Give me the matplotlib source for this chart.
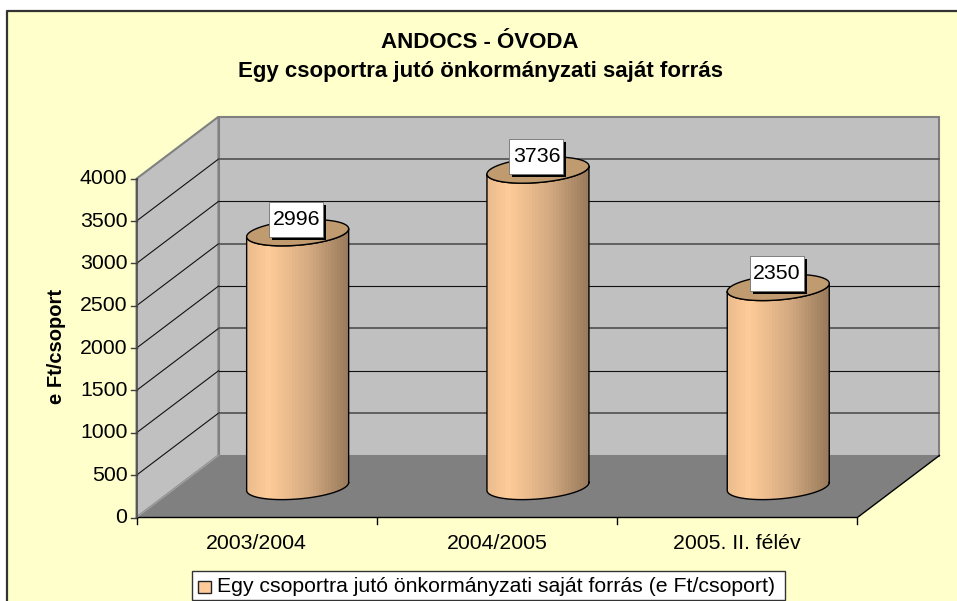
import numpy as np
import matplotlib
matplotlib.use('Agg')
import matplotlib.pyplot as plt
from matplotlib.colors import LinearSegmentedColormap
from matplotlib.patches import Polygon, Rectangle
from matplotlib.path import Path

# Data
categories = ['2003/2004', '2004/2005', '2005. II. félév']
values = [2996, 3736, 2350]
y_ticks = [0, 500, 1000, 1500, 2000, 2500, 3000, 3500, 4000]

title_lines = ['ANDOCS - ÓVODA', 'Egy csoportra jutó önkormányzati saját forrás']
y_label = 'e Ft/csoport'
legend_label = 'Egy csoportra jutó önkormányzati saját forrás (e Ft/csoport)'

plt.rcParams['font.family'] = ['Liberation Sans', 'DejaVu Sans']

# Oblique projection of the 3D box onto the picture, in pixels
X0, Y0 = 136.5, 517.5
CAT_W = 240.3
PX_PER_VALUE = 0.0847
DEPTH_X, DEPTH_Y = 82, 62
FONT = 15.3


def project(cat, value, depth=0.0):
    return (X0 + cat * CAT_W + depth * DEPTH_X,
            Y0 - value * PX_PER_VALUE - depth * DEPTH_Y)


fig = plt.figure(figsize=(9.57, 6.01), dpi=100)
ax = fig.add_axes([0, 0, 1, 1])
ax.axis('off')

# Chart background with its border on the left and top
ax.add_patch(Rectangle((7, 10.5), 960, 600, fc='#FFFFCC', ec='none', zorder=0))
ax.plot([7, 7, 957], [601, 10.5, 10.5], color='#333333', lw=1.6, zorder=1)

n_cat = len(categories)
y_max = y_ticks[-1]
edge = '#808080'

# Walls and floor
side_wall = [project(0, 0), project(0, y_max), project(0, y_max, 1), project(0, 0, 1)]
back_wall = [project(0, 0, 1), project(0, y_max, 1), project(n_cat, y_max, 1), project(n_cat, 0, 1)]
floor = [project(0, 0), project(0, 0, 1), project(n_cat, 0, 1), project(n_cat, 0)]
ax.add_patch(Polygon(side_wall, fc='#C0C0C0', ec=edge, lw=1.5, zorder=2))
ax.add_patch(Polygon(back_wall, fc='#C0C0C0', ec=edge, lw=1.5, zorder=2))

# Gridlines, the alternating weights come from the resampled original
for i, v in enumerate(y_ticks[1:-1], start=1):
    a, b, c = project(0, v), project(0, v, 1), project(n_cat, v, 1)
    ax.plot([a[0], b[0]], [a[1], b[1]], color='#111111', lw=0.8, zorder=3)
    col, lw = ('#111111', 0.8) if i % 2 == 0 else ('#505050', 1.2)
    ax.plot([b[0], c[0]], [b[1], c[1]], color=col, lw=lw, zorder=3)

ax.add_patch(Polygon(floor, fc='#808080', ec='none', zorder=4))
ax.plot(*zip(project(0, 0), project(n_cat, 0), project(n_cat, 0, 1)), color='black', lw=1.0, zorder=5)
ax.plot(*zip(project(0, 0), project(0, 0, 1)), color='#A0A0A0', lw=1.0, zorder=5)

# Axis lines, ticks and labels
ax.plot(*zip(project(0, 0), project(0, y_max)), color='#505050', lw=1.2, zorder=5)
for v in y_ticks:
    px, py = project(0, v)
    ax.plot([px - 6, px], [py, py], color='#404040', lw=1.0, zorder=5)
    ax.text(px - 9, py, str(v), ha='right', va='center', fontsize=FONT, color='black')
for i in range(n_cat + 1):
    px, py = project(i, 0)
    ax.plot([px, px], [py, py + 6], color='black', lw=1.0, zorder=5)
for i, cat in enumerate(categories):
    px, py = project(i + 0.5, 0)
    ax.text(px, py + 26, cat, ha='center', va='center', fontsize=FONT, color='black')

# Cylinders
cyl_cmap = LinearSegmentedColormap.from_list(
    'cyl', [(0, '#EBBC8D'), (0.2, '#FFCC99'), (0.6, '#D6AC82'), (1, '#9A7B5C')])
gradient = np.linspace(0, 1, 34).reshape(1, -1)
HALF_W, HALF_H, TILT = 51, 12.5, 4
t = np.linspace(0, 2 * np.pi, 121)

for i, val in enumerate(values):
    cx, y_bot = project(i + 0.5, 0, 0.5)
    _, y_top = project(i + 0.5, val, 0.5)

    # lower half of an ellipse, running from the right side to the left side
    lower = t[t <= np.pi]
    ex = HALF_W * np.cos(lower)
    ey = HALF_H * np.sin(lower) - TILT * np.cos(lower)
    body = np.vstack([
        np.column_stack([cx + ex, y_bot + ey]),
        np.column_stack([cx + ex[::-1], y_top + ey[::-1]]),
        [[cx + ex[0], y_bot + ey[0]]],
    ])
    im = ax.imshow(gradient, cmap=cyl_cmap, aspect='auto', interpolation='nearest',
                   extent=[cx - HALF_W, cx + HALF_W, y_bot + 20, y_top - 20], zorder=6)
    im.set_clip_path(Path(body), ax.transData)
    ax.plot(body[:, 0], body[:, 1], color='black', lw=1.0, zorder=7)

    top_x = cx + HALF_W * np.cos(t)
    top_y = y_top + HALF_H * np.sin(t) - TILT * np.cos(t)
    ax.fill(top_x, top_y, fc='#C19B70', ec='black', lw=1.0, zorder=8)

    # Value label with its hard shadow
    lx, ly = cx - 1.5, y_top - 13.5
    ax.add_patch(Rectangle((lx - 27 + 3, ly - 17.5 + 3), 54, 35, fc='black', ec='none', zorder=9))
    ax.add_patch(Rectangle((lx - 27, ly - 17.5), 54, 35, fc='white', ec='#707070', lw=0.6, zorder=10))
    ax.text(lx, ly, str(val), ha='center', va='center', fontsize=FONT, color='black', zorder=11)

# Titles
ax.text(480, 42, title_lines[0], ha='center', va='center', fontsize=16, fontweight='bold')
ax.text(480, 71, title_lines[1], ha='center', va='center', fontsize=16, fontweight='bold')
ax.text(57, 347, y_label, rotation=90, ha='center', va='center', fontsize=14.5, fontweight='bold')

# Legend
ax.add_patch(Rectangle((191.5, 571), 593, 29, fc='white', ec='#333333', lw=1.0, zorder=2))
ax.add_patch(Rectangle((198, 581), 13, 12, fc='#FFCC99', ec='#222222', lw=1.0, zorder=3))
ax.text(217, 586, legend_label, ha='left', va='center', fontsize=FONT, color='black', zorder=3)

ax.set_xlim(0, 957)
ax.set_ylim(601, 0)
fig.savefig('out.png', dpi=100)
